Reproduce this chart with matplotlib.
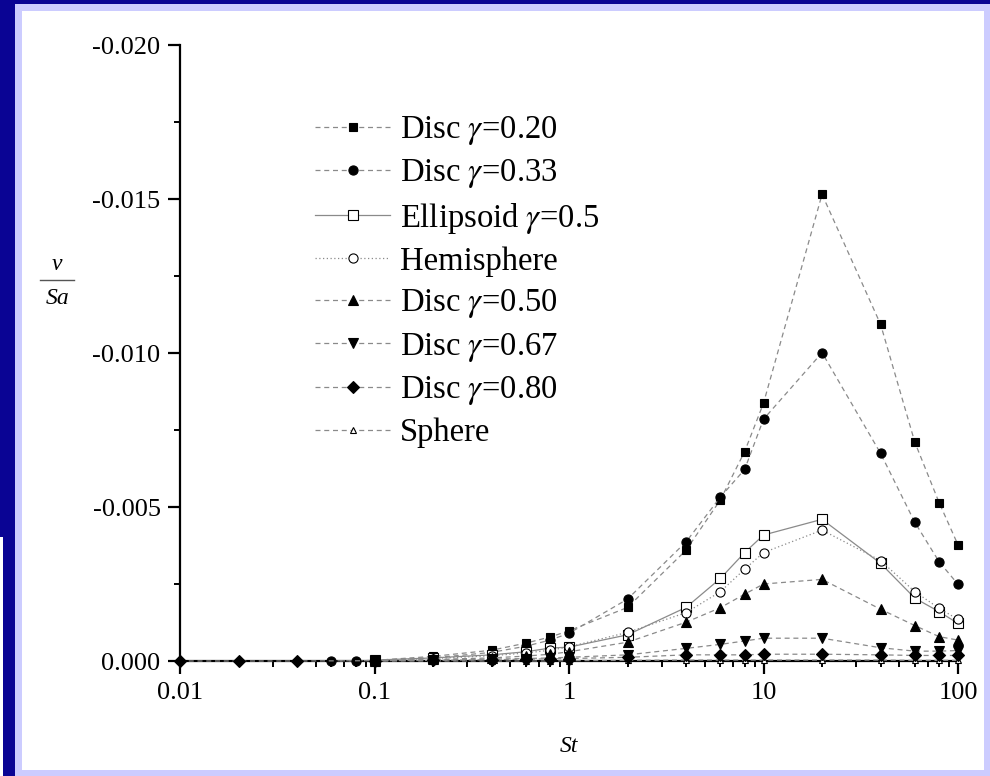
import matplotlib
matplotlib.use("Agg")
import matplotlib.pyplot as plt
from matplotlib.patches import Rectangle
from matplotlib.lines import Line2D
from matplotlib.ticker import FixedLocator, LogLocator, NullFormatter, FuncFormatter

plt.rcParams['font.family'] = ['Liberation Serif', 'DejaVu Serif']
plt.rcParams['mathtext.fontset'] = 'stix'

# ---------------- data ----------------
st_common = [0.1, 0.2, 0.4, 0.6, 0.8, 1, 2, 4, 6, 8, 10, 20, 40, 60, 80, 100]
st_d033 = [0.06, 0.08] + st_common
st_d080 = [0.01, 0.02, 0.04] + st_common

disc020 = [0.00002, 0.00015, 0.00035, 0.00058, 0.00078, 0.00098, 0.00174, 0.0036,
           0.00523, 0.0068, 0.00837, 0.01515, 0.01093, 0.0071, 0.00514, 0.00377]
disc033 = [0.0, 0.00001, 0.00002, 0.0001, 0.00028, 0.00048, 0.00068, 0.0009, 0.00201,
           0.00387, 0.00532, 0.00622, 0.00785, 0.01001, 0.00674, 0.0045, 0.00322, 0.00249]
ellipsoid = [0.00003, 0.0001, 0.0002, 0.0003, 0.00042, 0.00045, 0.00085, 0.00174,
             0.00268, 0.00352, 0.00409, 0.0046, 0.00317, 0.00204, 0.0016, 0.00122]
hemisphere = [0.00002, 0.00008, 0.00017, 0.00026, 0.00035, 0.00046, 0.00093, 0.00157,
              0.00225, 0.00298, 0.00352, 0.00425, 0.00326, 0.00225, 0.00171, 0.00135]
disc050 = [0.00001, 0.00005, 0.0001, 0.00016, 0.00022, 0.0003, 0.00061, 0.00126,
           0.00173, 0.00217, 0.0025, 0.00265, 0.00168, 0.00115, 0.00079, 0.00068]
disc067 = [0.00001, 0.00003, 0.00006, 0.00008, 0.0001, 0.00012, 0.0002, 0.00041,
           0.00054, 0.00065, 0.00074, 0.00074, 0.00043, 0.00032, 0.00032, 0.00034]
disc080 = [0.0, 0.0, 0.0, 0.00001, 0.00002, 0.00004, 0.00006, 0.00007, 0.00008, 0.00012,
           0.0002, 0.0002, 0.0002, 0.00022, 0.00022, 0.0002, 0.00018, 0.00018, 0.00018]
sphere = [0.0, 0.0, 0.0, 0.0, 0.0, 0.00001, 0.00002, 0.00003, 0.00003, 0.00003,
          0.00003, 0.00003, 0.00003, 0.00002, 0.00002, 0.00002]

labels = ["Disc $\\gamma$=0.20", "Disc $\\gamma$=0.33", "Ellipsoid $\\gamma$=0.5",
          "Hemisphere", "Disc $\\gamma$=0.50", "Disc $\\gamma$=0.67",
          "Disc $\\gamma$=0.80", "Sphere"]
y_ticks = [0.0, -0.005, -0.010, -0.015, -0.020]
x_ticks = [0.01, 0.1, 1, 10, 100]
x_ticklabels = ["0.01", "0.1", "1", "10", "100"]

# ---------------- figure ----------------
W, H = 990, 776
fig = plt.figure(figsize=(W / 100, H / 100), dpi=100, facecolor='white')

def frect(x0, y0, x1, y1, color):
    fig.patches.append(Rectangle((x0 / W, 1 - y1 / H), (x1 - x0) / W, (y1 - y0) / H,
                                 transform=fig.transFigure, facecolor=color,
                                 edgecolor='none', zorder=-10))

blue = '#0a0494'
lav = '#ccccff'
frect(0, 0, W, 3.5, blue)
frect(0, 0, 15, 537, blue)
frect(3, 537, 15, H, blue)
frect(15, 3.5, W, 11, lav)
frect(15, 3.5, 22, H, lav)
frect(984, 3.5, W, H, lav)
frect(15, 770, W, H, lav)

ax = fig.add_axes([180 / W, 1 - 661 / H, 778 / W, 616 / H])
ax.set_facecolor('none')

gray = '#8a8a8a'
dash = (0, (4, 3))
series = [
    (st_common, disc020, 's', 'k', 'k', dash, 6.4, 3),
    (st_d033, disc033, 'o', 'k', 'k', dash, 6.6, 3),
    (st_common, ellipsoid, 's', 'white', 'k', '-', 6.6, 3),
    (st_common, hemisphere, 'o', 'white', 'k', (0, (1, 2)), 6.6, 3),
    (st_common, disc050, '^', 'k', 'k', dash, 6.8, 3),
    (st_common, disc067, 'v', 'k', 'k', dash, 6.8, 3),
    (st_d080, disc080, 'D', 'k', 'k', dash, 5.8, 3.2),
    (st_common, sphere, '^', 'white', 'k', dash, 5.0, 2.9),
]
handles = []
for (xs, ys, mk, fc, ec, ls, ms, z), lab in zip(series, labels):
    h, = ax.plot(xs, [-v for v in ys], linestyle=ls, color=gray, linewidth=0.9,
                 marker=mk, markerfacecolor=fc, markeredgecolor=ec, markersize=ms,
                 markeredgewidth=0.8, label=lab, clip_on=False, zorder=z)
    handles.append(h)

ax.set_xscale('log')
ax.set_xlim(0.01, 100)
ax.set_ylim(0.0, -0.020)

for s in ['top', 'right']:
    ax.spines[s].set_visible(False)
for s in ['left', 'bottom']:
    ax.spines[s].set_linewidth(1.6)

ax.set_yticks(y_ticks)
ax.yaxis.set_major_formatter(FuncFormatter(lambda v, p: "%.3f" % v if abs(v) > 1e-12 else "0.000"))
ax.yaxis.set_minor_locator(FixedLocator([-0.0025, -0.0075, -0.0125, -0.0175]))
ax.set_xticks(x_ticks)
ax.set_xticklabels(x_ticklabels)
ax.xaxis.set_minor_locator(LogLocator(base=10, subs=range(2, 10)))
ax.xaxis.set_minor_formatter(NullFormatter())

ax.tick_params(which='major', direction='out', length=9, width=1.6, labelsize=19,
               pad=5, color='k')
ax.tick_params(axis='x', which='major', pad=6)
ax.tick_params(which='minor', direction='out', length=4, width=1.4, color='k')

leg = fig.legend(handles=handles, labels=labels, loc='upper left',
                 bbox_to_anchor=(315 / W, 1 - 114 / H), bbox_transform=fig.transFigure,
                 frameon=False, fontsize=23.5, handlelength=2.3, handletextpad=0.3,
                 labelspacing=0.32, borderpad=0, borderaxespad=0, numpoints=1)

# axis labels
fig.text(57 / W, 1 - 264 / H, "v", fontsize=17, style='italic', ha='center', va='center')
fig.lines.append(Line2D([40 / W, 74 / W], [1 - 279.5 / H, 1 - 279.5 / H],
                        transform=fig.transFigure, color='#555555', linewidth=1.0))
fig.text(58 / W, 1 - 299 / H, "Sa", fontsize=17, style='italic', ha='center', va='center')
fig.text(569 / W, 1 - 746 / H, "St", fontsize=17, style='italic', ha='center', va='center')

fig.savefig("out.png", dpi=100, facecolor='white')
